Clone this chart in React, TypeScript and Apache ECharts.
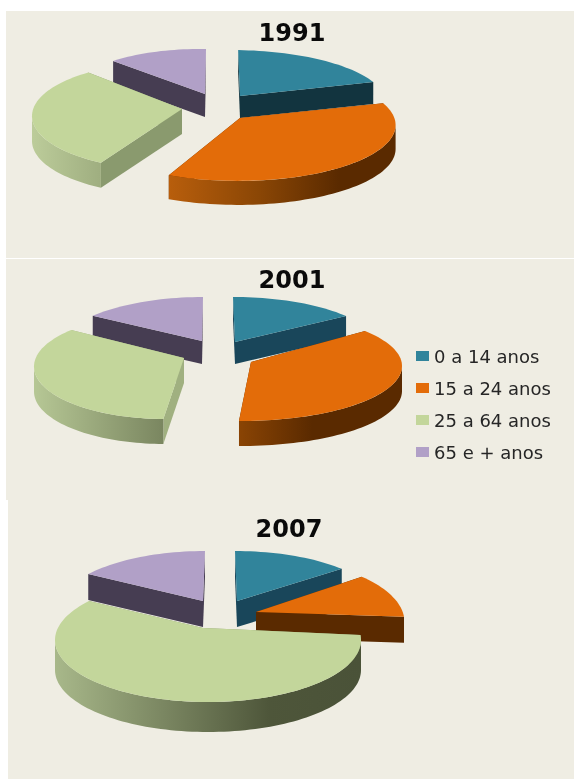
import React, { useEffect, useRef } from "react";
import * as echarts from "echarts";

const years = ["1991", "2001", "2007"];
const groups = ["0 a 14 anos", "15 a 24 anos", "25 a 64 anos", "65 e + anos"];
const group0to14 = [17.8, 14.0, 12.6];
const group15to24 = [38.6, 36.2, 11.1];
const group25to64 = [31.7, 37.1, 62.1];
const group65plus = [11.9, 12.7, 14.2];
const groupValues = [group0to14, group15to24, group25to64, group65plus];

// ---- styling / layout of the pseudo-3D projection, separate from the data ----
const startAngle = [3, 0, 0];
const topColors = ["#31849B", "#E36C09", "#C3D69B", "#B1A0C7"];
const edgeColors = [
  ["#12343F", "#5A2A00", "#8A9A6E", "#463D52"],
  ["#19465A", "#5A2A00", "#A0B080", "#463D52"],
  ["#19465A", "#5A2A00", "#8A9A6E", "#463D52"],
];
const wallStops: any[][][] = [
  [[], [[0, "#B85E0C"], [0.4, "#8A4605"], [0.75, "#5A2A00"], [1, "#5A2A00"]], [[0, "#BCCC9A"], [1, "#9FAE80"]], []],
  [[], [[0, "#8A4404"], [0.45, "#5A2A00"], [1, "#5A2A00"]], [[0, "#B6C795"], [1, "#7A8660"]], []],
  [[], [], [[0, "#A8B88A"], [0.7, "#4E563A"], [1, "#4A5238"]], []],
];
// per year, per group: [cx, cy, rx, ry, apexX, apexY, depth, twistStart, twistEnd]
const geometry = [
  [
    [230, 102.5, 155.5, 52.5, 240, 96, 22, 0, 0],
    [238, 125, 157.6, 55.9, 240, 118, 24, 0, 0],
    [170, 116, 138, 54, 182, 109, 25, 4, 3.5],
    [199, 100.5, 134, 51.5, 205, 94, 23, 0, 0],
  ],
  [
    [233, 349.5, 146.7, 52.5, 235, 342, 22, 0, 0],
    [241, 366, 161, 55, 251, 362, 25, 0, 0],
    [165, 366.6, 131, 52.4, 184, 358, 25, 0, 0],
    [203, 359, 154, 62, 202, 341, 23, 0, 0],
  ],
  [
    [235, 611, 150, 60, 237, 601, 26, 0, 0],
    [256.5, 622, 148, 64.5, 256, 612, 26, 0, 0],
    [208, 640, 153, 62, 203, 628, 30, 0, 0],
    [205, 613, 150, 62, 203, 601, 26, 0, 0],
  ],
];
const paintZ = [2, 4, 5, 3];

const rad = (d: number) => (d * Math.PI) / 180;

function sliceAngles(year: number, group: number) {
  const total = groupValues.reduce((s, g) => s + g[year], 0);
  let a = startAngle[year];
  for (let i = 0; i < group; i++) a += (groupValues[i][year] / total) * 360;
  return [a, a + (groupValues[group][year] / total) * 360];
}

function makeRenderItem(group: number) {
  return (_params: any, api: any) => {
    const year = api.value(0);
    const [cx, cy, rx, ry, ax, ay, depth, t0, t1] = geometry[year][group];
    const [a0Raw, a1Raw] = sliceAngles(year, group);
    const a0 = a0Raw + t0;
    const a1 = a1Raw + t1;
    const pt = (a: number) => [cx + rx * Math.sin(rad(a)), cy - ry * Math.cos(rad(a))];
    const arc = (from: number, to: number) => {
      const out: number[][] = [];
      const n = Math.max(2, Math.ceil((to - from) / 2));
      for (let i = 0; i <= n; i++) out.push(pt(from + ((to - from) * i) / n));
      return out;
    };
    const down = (p: number[]) => [p[0], p[1] + depth];
    const top = arc(a0, a1);
    const p0 = top[0];
    const p1 = top[top.length - 1];
    const apex = [ax, ay];
    const children: any[] = [];
    const edge = edgeColors[year][group];

    const radial = (p: number[]) => ({
      type: "polygon",
      shape: { points: [apex, p, down(p), down(apex)] },
      style: { fill: edge },
    });
    children.push(radial(p0), radial(p1));

    const w0 = Math.max(a0, 90);
    const w1 = Math.min(a1, 270);
    const stops = wallStops[year][group];
    if (w1 > w0 && stops.length) {
      const wall = arc(w0, w1);
      children.push({
        type: "polygon",
        shape: { points: wall.concat(wall.map(down).reverse()) },
        style: {
          fill: {
            type: "linear",
            x: 0,
            y: 0,
            x2: 1,
            y2: 0,
            colorStops: stops.map((s: any[]) => ({ offset: s[0], color: s[1] })),
          },
        },
      });
    }
    children.push({
      type: "polygon",
      shape: { points: [apex, ...top] },
      style: { fill: topColors[group] },
    });
    return { type: "group", children };
  };
}

export default function App() {
  const ref = useRef<HTMLDivElement>(null);
  useEffect(() => {
    const chart = echarts.init(ref.current!, undefined, { renderer: "svg" });
    const panel = "#EFEDE3";
    const titleStyle = {
      fontFamily: "DejaVu Sans",
      fontWeight: "bold" as const,
      fontSize: 24,
      color: "#0a0a0a",
    };
    chart.setOption({
      animation: false,
      backgroundColor: "#ffffff",
      title: [
        { text: years[0], left: 292, top: 21, textAlign: "center", textStyle: titleStyle, padding: 0 },
        { text: years[1], left: 292, top: 268, textAlign: "center", textStyle: titleStyle, padding: 0 },
        { text: years[2], left: 289, top: 517, textAlign: "center", textStyle: titleStyle, padding: 0 },
      ],
      legend: {
        orient: "vertical",
        left: 416,
        top: 347,
        itemWidth: 13,
        itemHeight: 10,
        itemGap: 14,
        itemStyle: { borderWidth: 0 },
        icon: "rect",
        data: groups,
        padding: 0,
        textStyle: { fontFamily: "DejaVu Sans", fontSize: 18, lineHeight: 18, color: "#262626" },
      },
      graphic: [
        { type: "rect", silent: true, z: -10, shape: { x: 6, y: 11, width: 568, height: 247 }, style: { fill: panel } },
        { type: "rect", silent: true, z: -10, shape: { x: 6, y: 259, width: 568, height: 241 }, style: { fill: panel } },
        { type: "rect", silent: true, z: -10, shape: { x: 8, y: 500, width: 566, height: 279 }, style: { fill: panel } },
      ],
      series: groups.map((name, g) => ({
        type: "custom",
        name,
        coordinateSystem: "none",
        z: paintZ[g],
        itemStyle: { color: topColors[g] },
        renderItem: makeRenderItem(g),
        data: years.map((_, y) => [y, groupValues[g][y]]),
      })),
    });
    return () => chart.dispose();
  }, []);
  return <div ref={ref} style={{ position: "fixed", left: 0, top: 0, width: 574, height: 779, filter: "blur(0.4px)" }} />;
}
